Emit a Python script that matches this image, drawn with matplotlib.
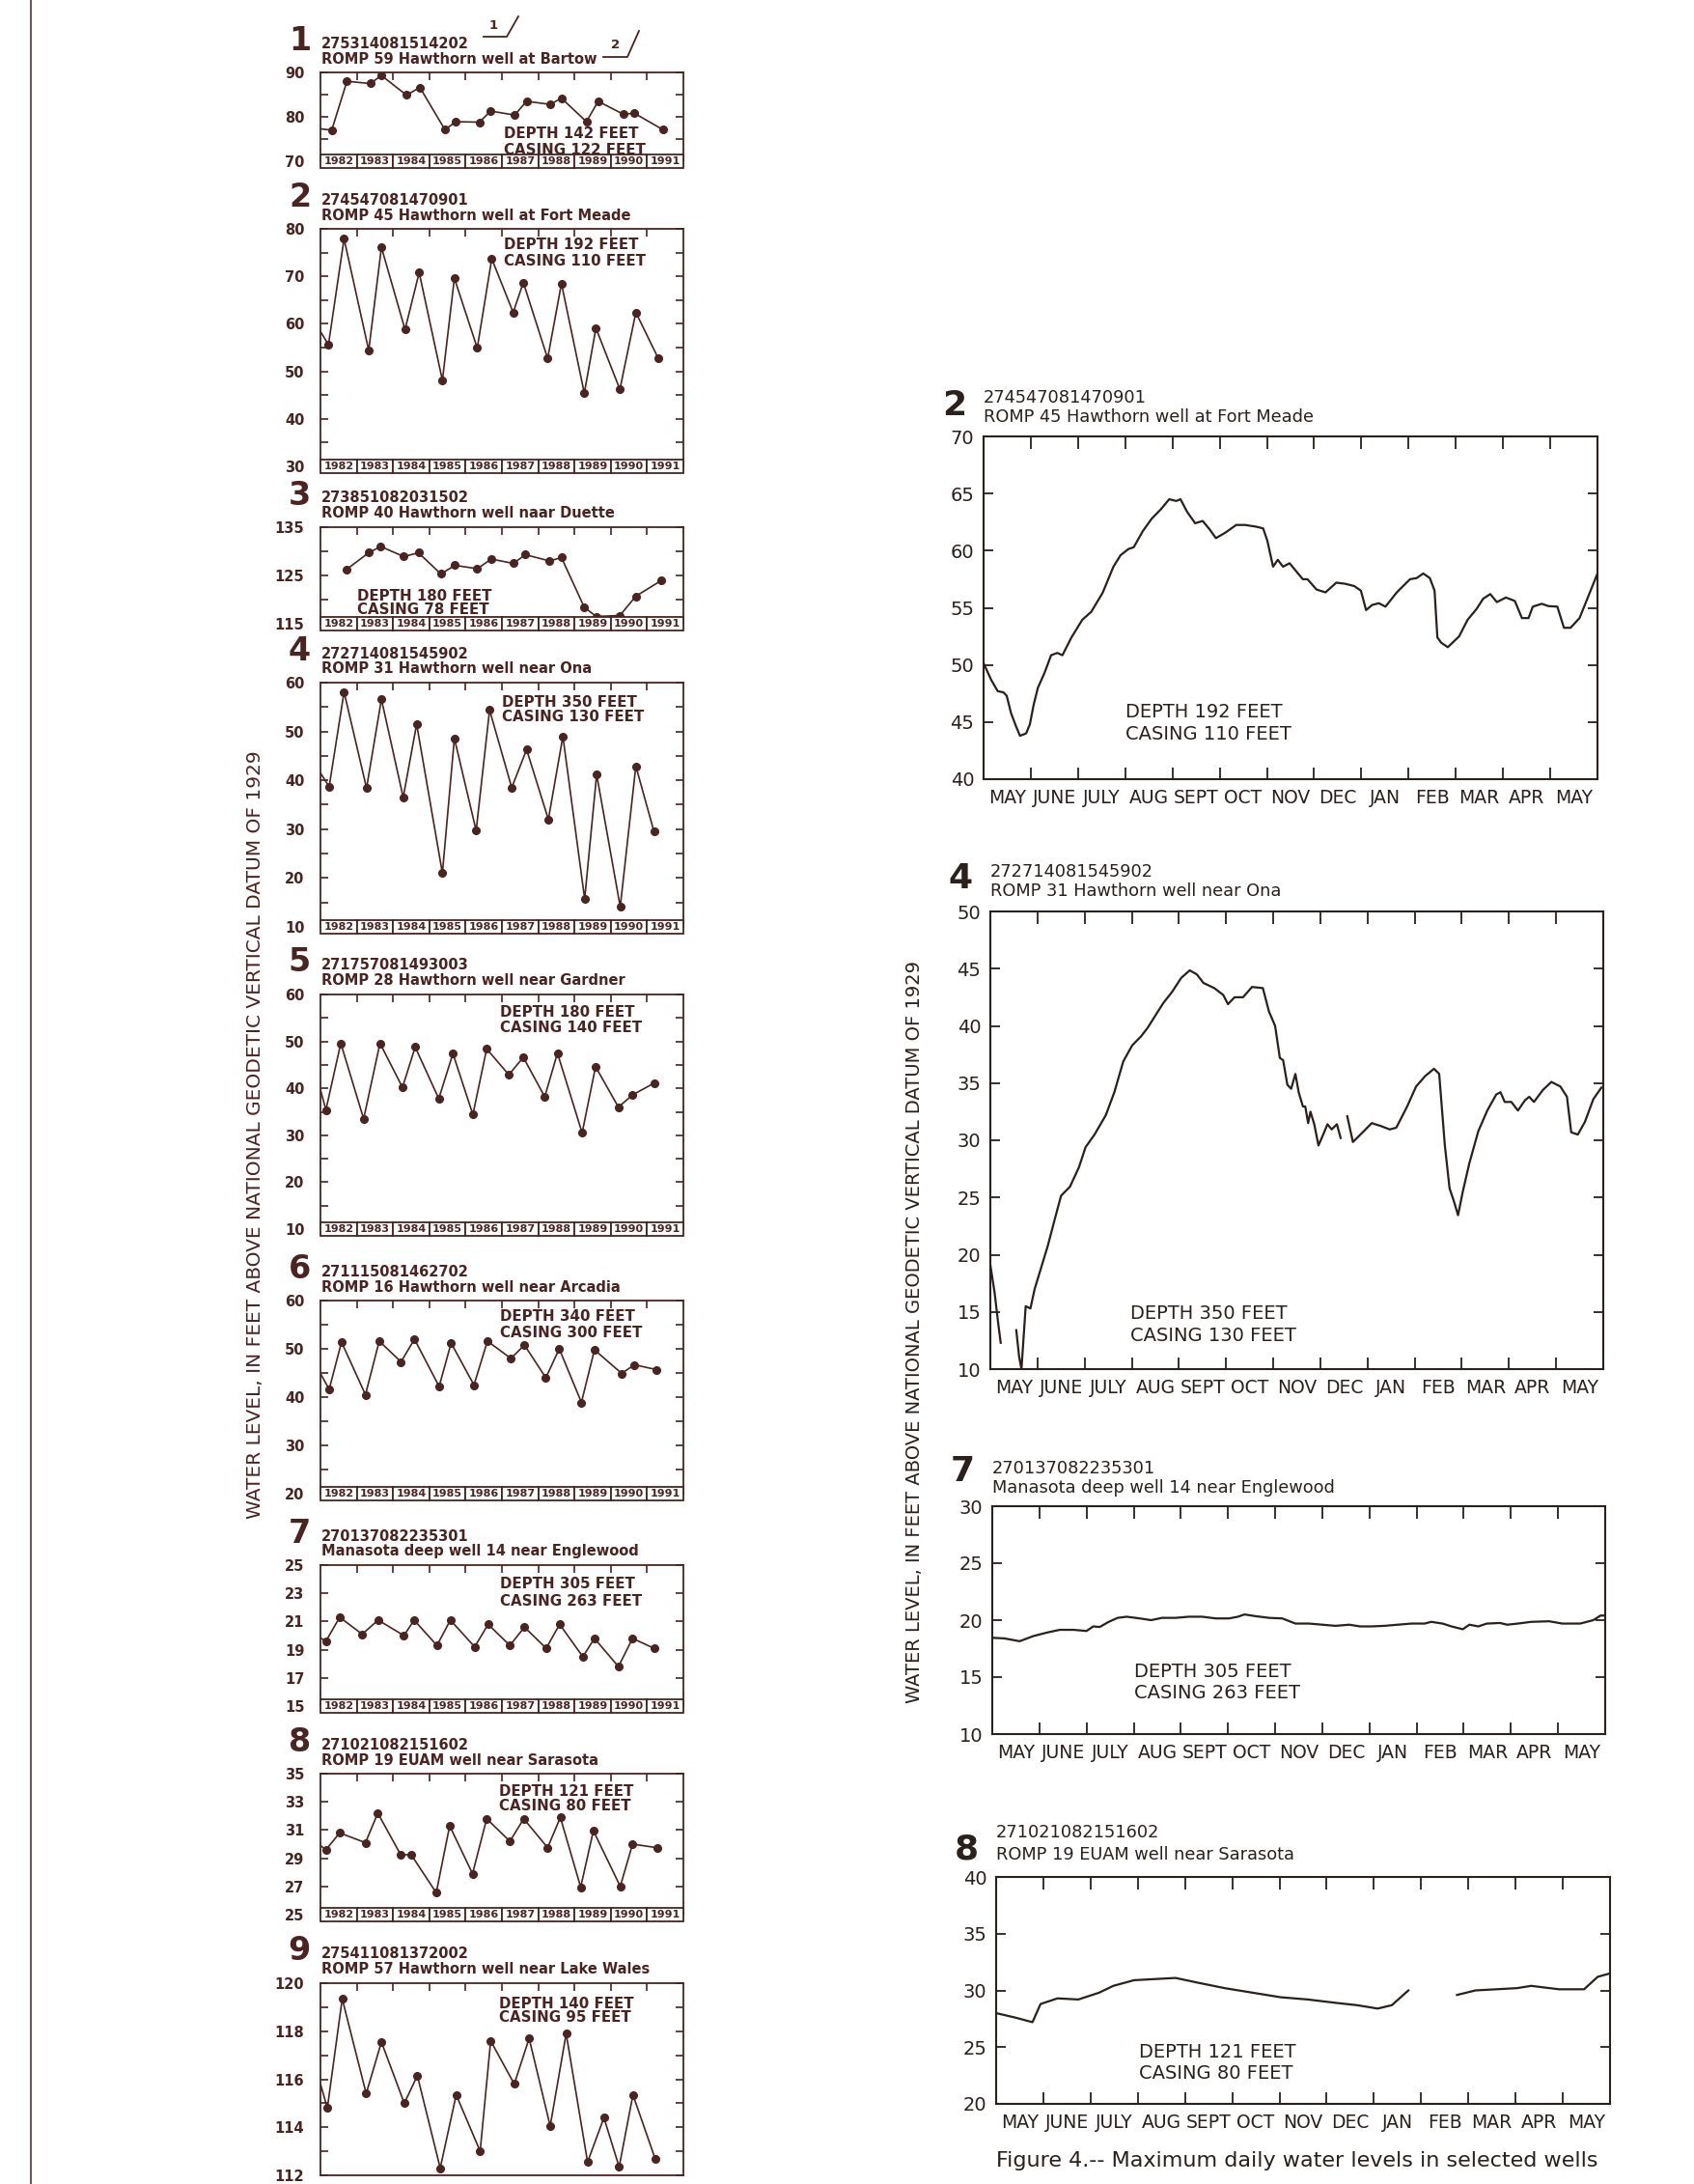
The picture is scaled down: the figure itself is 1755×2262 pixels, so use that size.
import matplotlib.pyplot as plt
from matplotlib.patches import Rectangle
from matplotlib.lines import Line2D
import numpy as np

W, H = 1755, 2262
LEFT_INK = "#4a2420"
RIGHT_INK = "#2a201c"

# ---------------- left column: annual high / low, 1982-91 ----------------
YEARS = [1982, 1983, 1984, 1985, 1986, 1987, 1988, 1989, 1990, 1991]

P1_T = [1982.0, 1982.31, 1982.73, 1983.37, 1983.68, 1984.37, 1984.74, 1985.43, 1985.73, 1986.38,
        1986.69, 1987.35, 1987.68, 1988.33, 1988.64, 1989.33, 1989.65, 1990.34, 1990.65, 1991.44]
P1_Y = [77.3, 77.0, 88.0, 87.5, 89.3, 84.9, 86.6, 77.1, 78.9, 78.8,
        81.3, 80.4, 83.5, 82.8, 84.2, 78.9, 83.5, 80.6, 80.8, 77.1]

P2_T = [1982.0, 1982.22, 1982.65, 1983.33, 1983.68, 1984.33, 1984.72, 1985.36, 1985.69, 1986.32,
        1986.72, 1987.31, 1987.59, 1988.26, 1988.64, 1989.27, 1989.59, 1990.25, 1990.69, 1991.31]
P2_Y = [58.4, 55.6, 77.9, 54.4, 76.1, 58.8, 70.8, 48.1, 69.6, 54.9,
        73.7, 62.4, 68.7, 52.7, 68.5, 45.4, 59.1, 46.2, 62.4, 52.7]

P3_T = [1982.71, 1983.33, 1983.66, 1984.30, 1984.70, 1985.32, 1985.70, 1986.32, 1986.71,
        1987.31, 1987.65, 1988.31, 1988.64, 1989.27, 1989.60, 1990.25, 1990.69, 1991.40]
P3_Y = [126.2, 129.7, 131.0, 128.9, 129.7, 125.3, 127.1, 126.4, 128.4,
        127.5, 129.3, 128.0, 128.7, 118.4, 116.5, 116.7, 120.7, 124.0]

P4_T = [1982.0, 1982.24, 1982.65, 1983.27, 1983.68, 1984.28, 1984.65, 1985.36, 1985.69, 1986.29,
        1986.66, 1987.27, 1987.68, 1988.28, 1988.68, 1989.28, 1989.61, 1990.26, 1990.69, 1991.19]
P4_Y = [41.5, 38.7, 58.1, 38.4, 56.6, 36.5, 51.5, 21.0, 48.6, 29.7,
        54.4, 38.5, 46.3, 32.0, 49.0, 15.7, 41.2, 14.1, 42.9, 29.5]

P5_T = [1982.0, 1982.15, 1982.56, 1983.19, 1983.64, 1984.26, 1984.61, 1985.26, 1985.65, 1986.20,
        1986.58, 1987.19, 1987.59, 1988.18, 1988.53, 1989.21, 1989.58, 1990.21, 1990.60, 1991.19]
P5_Y = [39.7, 35.4, 49.6, 33.5, 49.6, 40.2, 48.8, 37.8, 47.4, 34.4,
        48.4, 42.9, 46.6, 38.2, 47.5, 30.5, 44.6, 36.0, 38.6, 41.1]

P6_T = [1982.0, 1982.24, 1982.58, 1983.24, 1983.62, 1984.22, 1984.59, 1985.27, 1985.60, 1986.23,
        1986.60, 1987.25, 1987.62, 1988.21, 1988.58, 1989.19, 1989.55, 1990.30, 1990.65, 1991.25]
P6_Y = [44.9, 41.6, 51.4, 40.5, 51.6, 47.3, 52.0, 42.2, 51.2, 42.5,
        51.6, 48.0, 50.8, 44.0, 50.0, 38.9, 49.8, 44.9, 46.7, 45.7]

P7_T = [1982.0, 1982.15, 1982.53, 1983.15, 1983.59, 1984.30, 1984.58, 1985.21, 1985.58, 1986.25,
        1986.62, 1987.22, 1987.62, 1988.22, 1988.59, 1989.23, 1989.55, 1990.21, 1990.60, 1991.19]
P7_Y = [19.84, 19.6, 21.3, 20.1, 21.1, 20.0, 21.1, 19.3, 21.1, 19.2,
        20.8, 19.3, 20.6, 19.1, 20.8, 18.5, 19.8, 17.8, 19.8, 19.1]

P8_T = [1982.0, 1982.15, 1982.53, 1983.24, 1983.58, 1984.21, 1984.50, 1985.19, 1985.56, 1986.19,
        1986.58, 1987.22, 1987.60, 1988.26, 1988.61, 1989.17, 1989.52, 1990.26, 1990.60, 1991.27]
P8_Y = [29.9, 29.6, 30.8, 30.1, 32.2, 29.25, 29.25, 26.55, 31.3, 27.9,
        31.8, 30.2, 31.8, 29.75, 31.9, 26.95, 30.95, 27.0, 30.0, 29.75]

P9_T = [1982.0, 1982.19, 1982.60, 1983.26, 1983.68, 1984.31, 1984.67, 1985.30, 1985.74, 1986.40,
        1986.69, 1987.34, 1987.75, 1988.33, 1988.77, 1989.36, 1989.81, 1990.23, 1990.61, 1991.22]
P9_Y = [115.8, 114.8, 119.35, 115.4, 117.55, 115.0, 116.15, 112.3, 115.35, 113.0,
        117.6, 115.8, 117.7, 114.05, 117.9, 112.55, 114.4, 112.35, 115.35, 112.7]

# ---------------- right column: daily maximum, May to May ----------------
MONTHS = ["MAY", "JUNE", "JULY", "AUG", "SEPT", "OCT", "NOV", "DEC",
          "JAN", "FEB", "MAR", "APR", "MAY"]

R2_M = [0.0, 0.16, 0.3, 0.42, 0.49, 0.58, 0.68, 0.77, 0.9, 0.98, 1.06, 1.15, 1.29, 1.43, 1.56,
        1.67, 1.86, 2.09, 2.28, 2.52, 2.75, 2.9, 3.07, 3.18, 3.37, 3.56, 3.75, 3.93, 4.08, 4.17,
        4.31, 4.48, 4.64, 4.78, 4.92, 5.11, 5.35, 5.54, 5.77, 5.92, 6.01, 6.13, 6.23, 6.34, 6.48,
        6.62, 6.76, 6.86, 7.05, 7.24, 7.47, 7.66, 7.85, 7.99, 8.1, 8.23, 8.37, 8.51, 8.75, 9.03,
        9.17, 9.31, 9.45, 9.55, 9.61, 9.69, 9.83, 10.07, 10.25, 10.44, 10.58, 10.73, 10.87, 11.06,
        11.25, 11.4, 11.54, 11.63, 11.82, 11.96, 12.15, 12.29, 12.43, 12.62, 12.81, 13.0]
R2_Y = [50.15, 48.7, 47.7, 47.6, 47.3, 45.8, 44.7, 43.8, 44.0, 44.8, 46.5, 48.0, 49.3, 50.85, 51.05,
        50.85, 52.4, 53.95, 54.65, 56.3, 58.6, 59.6, 60.15, 60.3, 61.7, 62.8, 63.6, 64.5, 64.35, 64.5,
        63.4, 62.4, 62.6, 61.9, 61.1, 61.55, 62.25, 62.25, 62.1, 61.95, 60.85, 58.6, 59.2, 58.6, 58.9,
        58.2, 57.5, 57.5, 56.6, 56.35, 57.2, 57.1, 56.9, 56.5, 54.8, 55.25, 55.4, 55.1, 56.35, 57.5,
        57.6, 58.0, 57.6, 56.5, 52.4, 51.95, 51.55, 52.5, 53.95, 54.9, 55.8, 56.2, 55.5, 55.9,
        55.6, 54.1, 54.1, 55.1, 55.35, 55.15, 55.1, 53.25, 53.25, 54.1, 56.05, 58.0]

R4_M = [0.0, 0.09, 0.17, 0.22, 0.4, 0.55, 0.61, 0.66, 0.75, 0.85, 0.94, 1.08, 1.22, 1.36, 1.5,
        1.69, 1.88, 2.02, 2.21, 2.45, 2.63, 2.82, 3.01, 3.2, 3.34, 3.53, 3.67, 3.86, 4.05, 4.23,
        4.38, 4.52, 4.75, 4.94, 5.04, 5.18, 5.36, 5.55, 5.78, 5.91, 6.04, 6.14, 6.21, 6.3, 6.38,
        6.47, 6.54, 6.63, 6.68, 6.74, 6.79, 6.87, 6.96, 7.06, 7.15, 7.24, 7.35, 7.43, 7.5, 7.57,
        7.69, 7.85, 8.09, 8.28, 8.47, 8.61, 8.84, 9.03, 9.22, 9.41, 9.52, 9.64, 9.74, 9.83, 9.92,
        10.02, 10.16, 10.35, 10.54, 10.73, 10.82, 10.91, 11.05, 11.19, 11.34, 11.43, 11.53, 11.72,
        11.9, 12.09, 12.23, 12.32, 12.46, 12.61, 12.79, 12.96]
R4_Y = [19.1, 16.7, 13.9, 12.3, np.nan, 13.4, 11.1, 10.0, 15.5, 15.3, 17.0, 18.9, 20.8, 23.0, 25.15,
        25.95, 27.65, 29.4, 30.5, 32.2, 34.2, 36.9, 38.3, 39.1, 39.85, 41.1, 42.0, 43.0, 44.2, 44.85,
        44.5, 43.75, 43.3, 42.7, 41.9, 42.5, 42.5, 43.4, 43.3, 41.25, 40.0, 37.2, 37.0, 34.85, 34.5,
        35.8, 34.2, 32.95, 32.95, 31.5, 32.5, 31.4, 29.55, 30.5, 31.4, 30.95, 31.4, 30.2, np.nan, 32.1,
        29.85, 30.5, 31.5, 31.25, 30.95, 31.1, 32.95, 34.7, 35.6, 36.25, 35.8, 29.55, 25.8, 24.7, 23.45,
        25.5, 28.0, 30.8, 32.6, 34.0, 34.2, 33.35, 33.35, 32.6, 33.5, 33.8, 33.35, 34.4,
        35.1, 34.7, 33.8, 30.7, 30.5, 31.6, 33.6, 34.6]

R7_M = [0.0, 0.25, 0.58, 0.87, 1.15, 1.43, 1.72, 2.0, 2.14, 2.28, 2.47, 2.66, 2.85, 3.13, 3.37,
        3.6, 3.89, 4.17, 4.45, 4.74, 5.02, 5.21, 5.35, 5.58, 5.87, 6.15, 6.43, 6.72, 7.0, 7.28,
        7.57, 7.8, 8.04, 8.32, 8.6, 8.89, 9.17, 9.31, 9.55, 9.74, 9.98, 10.12, 10.31, 10.49,
        10.77, 10.92, 11.15, 11.43, 11.81, 12.09, 12.47, 12.75, 12.9, 13.0]
R7_Y = [18.45, 18.4, 18.15, 18.6, 18.9, 19.15, 19.15, 19.05, 19.45, 19.4, 19.85, 20.2, 20.3, 20.15, 20.0,
        20.2, 20.2, 20.3, 20.3, 20.15, 20.15, 20.3, 20.5, 20.35, 20.2, 20.15, 19.7, 19.7, 19.6, 19.5,
        19.6, 19.45, 19.45, 19.5, 19.6, 19.7, 19.7, 19.85, 19.7, 19.45, 19.2, 19.6, 19.45, 19.7,
        19.75, 19.6, 19.7, 19.85, 19.9, 19.7, 19.7, 20.0, 20.4, 20.4]

R8_M = [0.0, 0.41, 0.77, 0.94, 1.3, 1.74, 2.18, 2.48, 2.92, 3.36, 3.8, 4.25, 4.84, 5.43, 6.02,
        6.6, 7.2, 7.64, 8.08, 8.38, 8.73, 9.2, 9.76, 10.15, 10.59, 11.03, 11.33, 11.92, 12.45,
        12.74, 13.0]
R8_Y = [28.0, 27.6, 27.2, 28.8, 29.3, 29.2, 29.8, 30.4, 30.9, 31.0, 31.1, 30.7, 30.2, 29.8, 29.4,
        29.2, 28.9, 28.7, 28.4, 28.7, 30.0, np.nan, 29.6, 30.0, 30.1, 30.2, 30.4, 30.1, 30.1,
        31.2, 31.5]


def add_px_axes(fig, left, top, right, bottom):
    return fig.add_axes([left / W, 1 - bottom / H, (right - left) / W, (bottom - top) / H])


def put(fig, x, y, s, **kw):
    fig.text(x / W, 1 - y / H, s, **kw)


def year_panel(fig, rect, num, site, name, t, lvl, ylim, labels, minor, depth, casing, tpos,
               boxes=True):
    left, top, right, bottom = rect
    ax = add_px_axes(fig, *rect)
    t = np.array(t)
    lvl = np.array(lvl)
    ax.plot(t, lvl, color=LEFT_INK, lw=1.2)
    m = t > 1982.01
    ax.plot(t[m], lvl[m], "o", color=LEFT_INK, ms=5.5)
    ax.set_xlim(1982, 1992)
    ax.set_ylim(*ylim)
    ax.set_yticks(labels)
    ax.set_yticks(minor, minor=True)
    ax.set_xticks(YEARS[1:])
    ax.tick_params(axis="x", bottom=False, top=True, labelbottom=False, direction="in",
                   length=6, width=1.2, color=LEFT_INK)
    ax.tick_params(axis="y", which="both", left=True, right=True, direction="in",
                   length=6, width=1.2, color=LEFT_INK, pad=12, labelsize=10.5,
                   labelcolor=LEFT_INK)
    for lab in ax.get_yticklabels():
        lab.set_fontweight("bold")
    for sp in ax.spines.values():
        sp.set_color(LEFT_INK)
        sp.set_linewidth(1.3)
    if boxes:
        # year boxes straddling the bottom edge
        box_h = 14.0 / (bottom - top)
        tr = ax.get_xaxis_transform()
        for yr in YEARS:
            ax.add_patch(Rectangle((yr, -box_h / 2), 1, box_h, transform=tr, facecolor="white",
                                   edgecolor=LEFT_INK, lw=1.3, clip_on=False, zorder=5))
            ax.text(yr + 0.5, 0, str(yr), transform=tr, ha="center", va="center", fontsize=8,
                    fontweight="bold", color=LEFT_INK, clip_on=False, zorder=6)
    put(fig, left - 10, top - 33, num, ha="right", va="center", fontsize=24,
        fontweight="bold", color=LEFT_INK)
    put(fig, left + 1, top - 30, site, ha="left", va="center", fontsize=10.5,
        fontweight="bold", color=LEFT_INK)
    put(fig, left + 1, top - 14, name, ha="left", va="center", fontsize=10.5,
        fontweight="bold", color=LEFT_INK)
    ax.text(tpos[0], tpos[1], f"DEPTH {depth} FEET", transform=ax.transAxes, ha="left",
            va="center", fontsize=10.8, fontweight="bold", color=LEFT_INK)
    ax.text(tpos[0], tpos[2], f"CASING {casing} FEET", transform=ax.transAxes, ha="left",
            va="center", fontsize=10.8, fontweight="bold", color=LEFT_INK)
    return ax


def month_panel(fig, rect, num, site, name, mo, lvl, ylim, depth, casing, tpos, head):
    left, top, right, bottom = rect
    ax = add_px_axes(fig, *rect)
    ax.plot(mo, lvl, color=RIGHT_INK, lw=1.6)
    ax.set_xlim(0, 13)
    ax.set_ylim(*ylim)
    ax.set_yticks(np.arange(ylim[0], ylim[1] + 1, 5))
    ax.set_xticks(np.arange(1, 13))
    ax.set_xticks(np.arange(0.5, 13), minor=True)
    ax.set_xticklabels(MONTHS, minor=True)
    ax.tick_params(axis="x", which="major", top=True, bottom=True, labelbottom=False,
                   direction="in", length=9, width=1.3, color=RIGHT_INK)
    ax.tick_params(axis="x", which="minor", length=0, pad=7, labelsize=13.5,
                   labelcolor=RIGHT_INK)
    ax.tick_params(axis="y", left=True, right=True, direction="in", length=7, width=1.3,
                   color=RIGHT_INK, pad=7, labelsize=14, labelcolor=RIGHT_INK)
    for sp in ax.spines.values():
        sp.set_color(RIGHT_INK)
        sp.set_linewidth(1.5)
    put(fig, left - 18, top - head[0], num, ha="right", va="center", fontsize=26,
        fontweight="bold", color=RIGHT_INK)
    put(fig, left, top - head[1], site, ha="left", va="center", fontsize=12.8, color=RIGHT_INK)
    put(fig, left, top - head[2], name, ha="left", va="center", fontsize=12.8, color=RIGHT_INK)
    ax.text(tpos[0], tpos[1], f"DEPTH {depth} FEET", transform=ax.transAxes, ha="left",
            va="center", fontsize=14, color=RIGHT_INK)
    ax.text(tpos[0], tpos[2], f"CASING {casing} FEET", transform=ax.transAxes, ha="left",
            va="center", fontsize=14, color=RIGHT_INK)
    return ax


fig = plt.figure(figsize=(W / 100, H / 100), dpi=100)
fig.patch.set_facecolor("white")

# left border rule
fig.add_artist(Line2D([32 / W, 32 / W], [0, 1], color="#6a5a55", lw=1.5))

LX0, LX1 = 332, 708
year_panel(fig, (LX0, 75, LX1, 167), "1", "275314081514202", "ROMP 59 Hawthorn well at Bartow",
           P1_T, P1_Y, (70, 90), [70, 80, 90], [75, 85], 142, 122, (0.505, 0.315, 0.13))
year_panel(fig, (LX0, 237, LX1, 483), "2", "274547081470901", "ROMP 45 Hawthorn well at Fort Meade",
           P2_T, P2_Y, (30, 80), [30, 40, 50, 60, 70, 80], [35, 45, 55, 65, 75], 192, 110,
           (0.504, 0.932, 0.865))
year_panel(fig, (LX0, 546, LX1, 646), "3", "273851082031502", "ROMP 40 Hawthorn well naar Duette",
           P3_T, P3_Y, (115, 135), [115, 125, 135], [120, 130], 180, 78, (0.1, 0.29, 0.14))
year_panel(fig, (LX0, 707, LX1, 960), "4", "272714081545902", "ROMP 31 Hawthorn well near Ona",
           P4_T, P4_Y, (10, 60), [10, 20, 30, 40, 50, 60], [15, 25, 35, 45, 55], 350, 130,
           (0.5, 0.917, 0.858))
year_panel(fig, (LX0, 1030, LX1, 1273), "5", "271757081493003", "ROMP 28 Hawthorn well near Gardner",
           P5_T, P5_Y, (10, 60), [10, 20, 30, 40, 50, 60], [15, 25, 35, 45, 55], 180, 140,
           (0.496, 0.925, 0.856))
year_panel(fig, (LX0, 1347, LX1, 1547), "6", "271115081462702", "ROMP 16 Hawthorn well near Arcadia",
           P6_T, P6_Y, (20, 60), [20, 30, 40, 50, 60], [25, 35, 45, 55], 340, 300,
           (0.496, 0.917, 0.833))
year_panel(fig, (LX0, 1621, LX1, 1767), "7", "270137082235301", "Manasota deep well 14 near Englewood",
           P7_T, P7_Y, (15, 25), [15, 17, 19, 21, 23, 25], [], 305, 263, (0.494, 0.868, 0.743))
year_panel(fig, (LX0, 1837, LX1, 1983), "8", "271021082151602", "ROMP 19 EUAM well near Sarasota",
           P8_T, P8_Y, (25, 35), [25, 27, 29, 31, 33, 35], [], 121, 80, (0.492, 0.875, 0.773))
year_panel(fig, (LX0, 2054, LX1, 2253), "9", "275411081372002", "ROMP 57 Hawthorn well near Lake Wales",
           P9_T, P9_Y, (112, 120), [112, 114, 116, 118, 120], [113, 115, 117, 119], 140, 95,
           (0.492, 0.89, 0.82), boxes=False)

# footnote marks near the top
put(fig, 511, 27, "1", ha="center", va="center", fontsize=9.5, fontweight="bold", color=LEFT_INK)
fig.add_artist(Line2D([501 / W, 525 / W, 537 / W], [1 - 38 / H, 1 - 38 / H, 1 - 17 / H],
                      color=LEFT_INK, lw=1.3))
put(fig, 638, 47, "2", ha="center", va="center", fontsize=9.5, fontweight="bold", color=LEFT_INK)
fig.add_artist(Line2D([625 / W, 650 / W, 662 / W], [1 - 59 / H, 1 - 59 / H, 1 - 32 / H],
                      color=LEFT_INK, lw=1.3))

month_panel(fig, (1019, 452, 1655, 807), "2", "274547081470901", "ROMP 45 Hawthorn well at Fort Meade",
            R2_M, R2_Y, (40, 70), 192, 110, (0.231, 0.195, 0.13), (32, 40, 20))
month_panel(fig, (1026, 944, 1661, 1418), "4", "272714081545902", "ROMP 31 Hawthorn well near Ona",
            R4_M, R4_Y, (10, 50), 350, 130, (0.229, 0.122, 0.073), (34, 41, 21))
month_panel(fig, (1028, 1560, 1663, 1796), "7", "270137082235301", "Manasota deep well 14 near Englewood",
            R7_M, R7_Y, (10, 30), 305, 263, (0.232, 0.273, 0.18), (36, 39, 19))
month_panel(fig, (1032, 1944, 1668, 2179), "8", "271021082151602", "ROMP 19 EUAM well near Sarasota",
            R8_M, R8_Y, (20, 40), 121, 80, (0.232, 0.227, 0.135), (28, 46, 23))

put(fig, 265, 1175, "WATER LEVEL, IN FEET ABOVE NATIONAL GEODETIC VERTICAL DATUM OF 1929",
    rotation=90, ha="center", va="center", fontsize=14.5, color=LEFT_INK)
put(fig, 947, 1380, "WATER LEVEL, IN FEET ABOVE NATIONAL GEODETIC VERTICAL DATUM OF 1929",
    rotation=90, ha="center", va="center", fontsize=14, color=RIGHT_INK)
put(fig, 1032, 2238, "Figure 4.-- Maximum daily water levels in selected wells",
    ha="left", va="center", fontsize=16, color=RIGHT_INK)

fig.savefig("out.png", dpi=100, facecolor="white")
